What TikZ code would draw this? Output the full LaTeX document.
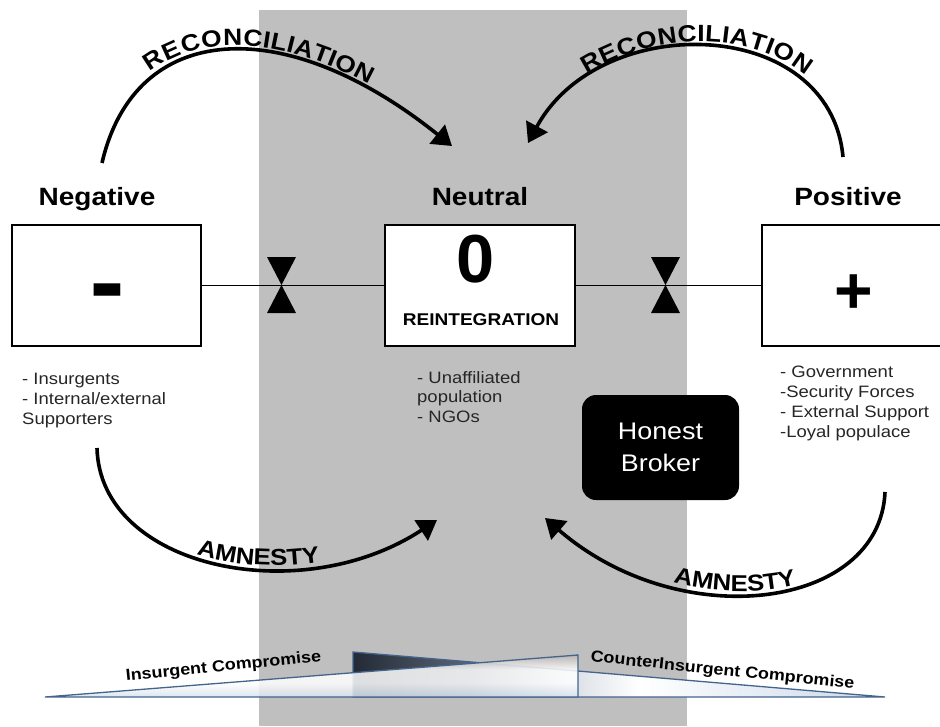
\documentclass[tikz,border=0pt]{standalone}
\usepackage{fontspec}
\setmainfont[FakeStretch=1.12]{Liberation Sans}
\usetikzlibrary{arrows.meta,decorations.text}
\definecolor{band}{HTML}{BFBFBF}
\definecolor{wedgeline}{HTML}{44648C}
\definecolor{dk}{HTML}{232A36}
\definecolor{md}{HTML}{5B6575}
\definecolor{lt}{HTML}{D8DDE4}
\definecolor{lb}{HTML}{C9D8EA}
\definecolor{lbb}{HTML}{D6E2EE}
\definecolor{tg}{HTML}{B8B4B2}
\pgfdeclarehorizontalshading{rtrishade}{100bp}{color(0bp)=(dk); color(25bp)=(dk); color(36bp)=(md); color(45bp)=(lt); color(52bp)=(white); color(75bp)=(lb); color(100bp)=(lb)}
\pgfdeclareverticalshading{ltrishade}{100bp}{color(0bp)=(lbb); color(25bp)=(lbb); color(42bp)=(white); color(58bp)=(white); color(75bp)=(tg); color(100bp)=(tg)}
\begin{document}
\begin{tikzpicture}[x=1pt,y=-1pt,
  box/.style={draw=black, line width=2.2pt, fill=white, minimum width=189pt, minimum height=121pt, inner sep=0pt},
  head/.style={font=\fontsize{25}{30}\selectfont\bfseries, anchor=base, inner sep=0pt},
  lst/.style={font=\fontsize{16.5}{19.8}\selectfont, align=left, anchor=north west, inner sep=0pt, text=black!85},
  arcarrow/.style={line width=3.6pt, -{Triangle[length=19pt,width=24pt]}},
  flow/.style={line width=1.6pt},
  wedge/.style={draw=wedgeline, line width=1.3pt},
  wedgetext/.style={font=\fontsize{16}{16}\selectfont\bfseries, inner sep=0pt},
]
\useasboundingbox (0,0) rectangle (940,726);
\clip (0,0) rectangle (940,726);
% central grey band
\fill[band] (259,10) rectangle (687,726);

% boxes
\node[box] (neg) at (106.5,285.5) {};
\node[box, minimum width=190pt] (neu) at (480,285.5) {};
\node[box, minimum width=190pt] (pos) at (857,285.5) {};

% flows between boxes
\draw[flow] (neg.east) -- (neu.west);
\draw[flow] (neu.east) -- (pos.west);

% valves
\fill (267,257) -- (296,257) -- (267,313) -- (296,313) -- cycle;
\fill (651,257) -- (680,257) -- (651,313) -- (680,313) -- cycle;

% box contents
\node[inner sep=0pt, anchor=base, font=\fontsize{48}{48}\selectfont\bfseries] (minus) at (107.5,323) {\scalebox{1}[2.6]{–}};
\node[inner sep=0pt, anchor=base, font=\fontsize{59}{59}\selectfont\bfseries] (plus) at (853.5,313) {\scalebox{1}[1.12]{+}};
\node[inner sep=0pt, anchor=base, font=\fontsize{68}{68}\selectfont\bfseries] (zero) at (476,282) {\scalebox{0.9}[1]{0}};
\node[inner sep=0pt, anchor=base, font=\fontsize{17}{17}\selectfont\bfseries] (reint) at (481,325) {REINTEGRATION};

% headings
\node[head] (hneg) at (97,205) {Negative};
\node[head] (hneu) at (480,205) {Neutral};
\node[head] (hpos) at (848,205) {Positive};

% lists
\node[lst] (lneg) at (22,373) {- Insurgents\\- Internal/external\\Supporters};
\node[lst] (lneu) at (417,371) {- Unaffiliated\\population\\- NGOs};
\node[lst] (lpos) at (780,366) {- Government\\-Security Forces\\- External Support\\-Loyal populace};

% honest broker
\node[fill=black, rounded corners=14pt, minimum width=157pt, minimum height=105pt, text=white, font=\fontsize{24}{32}\selectfont, align=center, inner sep=0pt] (hb) at (660.5,447.5) {Honest\\Broker};

% reconciliation arcs
\coordinate (rl0) at (102,163);
\coordinate (rl1) at (452,146);
\coordinate (rr0) at (843,157);
\coordinate (rr1) at (528,143);
\draw[arcarrow] (rl0) .. controls (135,20) and (285,12) .. (rl1);
\draw[arcarrow] (rr0) .. controls (830,15) and (600,10) .. (rr1);
\path[decorate, decoration={text along path, text align=center, raise=5pt,
  text={|\fontsize{23.5}{24}\selectfont\bfseries|RECONCILIATION}}]
  (rl0) .. controls (135,20) and (285,12) .. (rl1);
\path[decorate, decoration={text along path, text align=center, raise=5pt,
  text={|\fontsize{23.5}{24}\selectfont\bfseries|RECONCILIATION}}]
  (rr1) .. controls (600,10) and (830,15) .. (rr0);

% amnesty arcs
\coordinate (al0) at (97,448);
\coordinate (al1) at (437,520);
\coordinate (ar0) at (885,492);
\coordinate (ar1) at (545,518);
\draw[arcarrow] (al0) .. controls (100,568) and (300,610) .. (al1);
\draw[arcarrow] (ar0) .. controls (880,610) and (680,635) .. (ar1);
\path[decorate, decoration={text along path, text align={center, left indent=32pt}, raise=3pt,
  text={|\fontsize{23}{23}\selectfont\bfseries|AMNESTY}}]
  (al0) .. controls (100,568) and (300,610) .. (al1);
\path[decorate, decoration={text along path, text align={center, left indent=6pt}, raise=3pt,
  text={|\fontsize{23}{23}\selectfont\bfseries|AMNESTY}}]
  (ar1) .. controls (680,635) and (880,610) .. (ar0);

% compromise wedges
\path[wedge, shade, shading=rtrishade] (353,652) -- (885,697) -- (353,697) -- cycle;
\path[wedge, shade, shading=ltrishade, fill opacity=0.85] (45,697) -- (578,697) -- (578,655) -- cycle;
\node[wedgetext, rotate=5.8] (ic) at (223.5,667) {Insurgent Compromise};
\node[wedgetext, rotate=-5.9] (cic) at (722.5,671) {CounterInsurgent Compromise};
\end{tikzpicture}
\end{document}
